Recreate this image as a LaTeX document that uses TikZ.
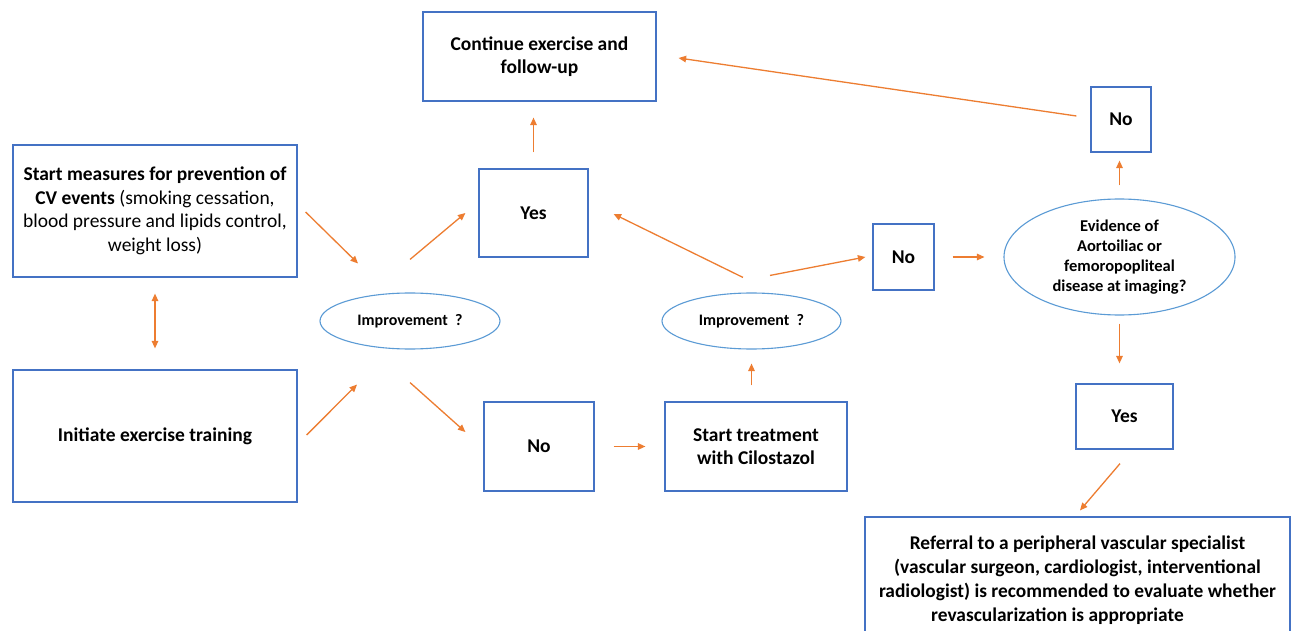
\documentclass[tikz,border=0pt]{standalone}
\usepackage{fontspec}
\setmainfont{Carlito}
\usetikzlibrary{arrows.meta,calc,shapes.geometric}
\definecolor{boxblue}{HTML}{4472C4}
\definecolor{ellblue}{HTML}{5B9BD5}
\definecolor{arrorange}{HTML}{ED7D31}
\begin{document}
\begin{tikzpicture}[x=1pt,y=-1pt,
  box/.style={draw=boxblue,line width=1.2pt,inner sep=0pt,align=center,font=\fontsize{19.5}{23.5}\selectfont\bfseries},
  ell/.style={draw=ellblue,line width=1.1pt,ellipse,inner sep=0pt,align=center},
  arr/.style={draw=arrorange,line width=1.3pt,-{Triangle[length=7.5pt,width=6.5pt]}},
  darr/.style={draw=arrorange,line width=1.3pt,{Triangle[length=7.5pt,width=6.5pt]}-{Triangle[length=7.5pt,width=6.5pt]}}]
\useasboundingbox (0,0) rectangle (1291,631);
\clip (0,0) rectangle (1291,631);
\fill[white] (0,0) rectangle (1291,631);
% nodes
\node[box,minimum width=284pt,minimum height=132pt] (A) at (155,211)
  {Start measures for prevention of\\CV events \mdseries(smoking cessation,\\\mdseries blood pressure and lipids control,\\\mdseries weight loss)};
\node[box,minimum width=284pt,minimum height=132pt] (B) at (155,436) {Initiate exercise training};
\node[ell,minimum width=180pt,minimum height=56pt,font=\fontsize{16}{18}\selectfont\bfseries] (E1) at (410,321) {Improvement\ \ ?};
\node[box,minimum width=233pt,minimum height=89pt] (Cont) at (539.5,56.5) {Continue exercise and\\follow-up};
\node[box,minimum width=109pt,minimum height=88pt] (Yes1) at (533.5,213) {Yes};
\node[box,minimum width=110pt,minimum height=89pt] (No1) at (539,446.5) {No};
\node[box,minimum width=182pt,minimum height=89pt] (Cil) at (756,446.5) {Start treatment\\with Cilostazol};
\node[ell,minimum width=179pt,minimum height=56pt,font=\fontsize{16}{18}\selectfont\bfseries] (E2) at (751.5,321) {Improvement\ \ ?};
\node[box,minimum width=61pt,minimum height=66pt] (No2) at (903.5,257) {No};
\node[ell,minimum width=231pt,minimum height=116pt,font=\fontsize{16.5}{20}\selectfont\bfseries] (E3) at (1119.5,257) {Evidence of\\Aortoiliac or\\femoropopliteal\\disease at imaging?};
\node[box,minimum width=60pt,minimum height=65pt] (No3) at (1121,119.5) {No};
\node[box,minimum width=97pt,minimum height=65pt] (Yes2) at (1124.5,416.5) {Yes};
\node[box,minimum width=425pt,minimum height=126pt,font=\fontsize{19.4}{24}\selectfont\bfseries] (Ref) at (1077.5,580)
  {Referral to a peripheral vascular specialist\\(vascular surgeon, cardiologist, interventional\\radiologist) is recommended to evaluate whether\\revascularization is appropriate\hspace*{40pt}};
% connectors
\draw[darr,shorten <=16pt,shorten >=21pt] (A.south) -- (B.north);
\draw[arr] ($(A.east)+(8,1)$) -- ($(E1.north)+(-52,-29)$);
\draw[arr] ($(B.east)+(9,-1)$) -- ($(E1.south)+(-53,35)$);
\draw[arr] ($(E1.north)+(0,-33)$) -- ($(Yes1.west)+(-13,0)$);
\draw[arr] ($(E1.south)+(0,33)$) -- ($(No1.west)+(-18,-14.5)$);
\draw[arr,shorten <=16pt,shorten >=16pt] (Yes1.north) -- (Yes1.north |- Cont.south);
\draw[arr,shorten <=19pt,shorten >=19pt] (No1.east) -- (Cil.west);
\draw[arr,shorten <=16pt,shorten >=14pt] (E2.south |- Cil.north) -- (E2.south);
\draw[arr] ($(E2.north)+(-8.5,-15)$) -- ($(Yes1.east)+(25,1)$);
\draw[arr] ($(E2.north)+(18.5,-17)$) -- ($(No2.west)+(-7,0)$);
\draw[arr,shorten <=18pt,shorten >=19pt] (No2.east) -- (E3.west);
\draw[arr,shorten <=13pt,shorten >=8pt] (E3.north) -- (E3.north |- No3.south);
\draw[arr] ($(No3.west)+(-14,-3.5)$) -- ($(Cont.east)+(22,1.5)$);
\draw[arr,shorten <=8pt,shorten >=20pt] (E3.south) -- (E3.south |- Yes2.north);
\draw[arr] ($(Yes2.south)+(-4.5,14)$) -- ($(Ref.north)+(2.5,-6)$);
\end{tikzpicture}
\end{document}
